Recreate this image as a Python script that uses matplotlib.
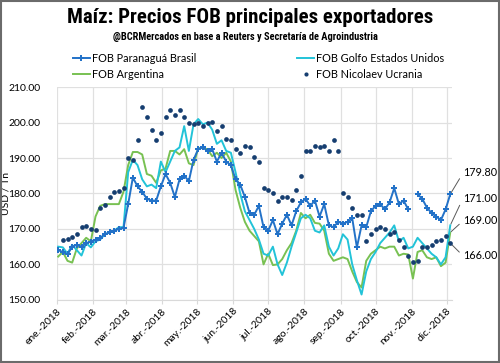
import matplotlib
matplotlib.use("Agg")
import matplotlib.pyplot as plt
import numpy as np
import pandas as pd
from matplotlib.lines import Line2D
from matplotlib.patches import Rectangle
from matplotlib.ticker import FormatStrFormatter
from matplotlib import font_manager

nan = np.nan

# fechas cada 4 dias
fechas = pd.date_range("2018-01-02", "2018-12-04", freq="4D")

paranagua = [164, 163.5, 162.8, 165, 165.5, 165, 166, 166.4, 167, 167.5,
             168.5, 169, 169.5, 170, 170.3, 177, 184.5, 182, 180.5, 178.5,
             178, 178, 182, 185.5, 183, 179, 184, 185, 183.5, 189.5,
             192.5, 193, 192, 192.5, 189, 191.5, 189, 188, 184, 182.5,
             179, 174.5, 174, 176.5, 170.5, 169.5, 172.5, 168.5, 171.5, 174,
             171, 175, 177.5, 178.5, 176.5, 178, 173.5, 177, 171, 170.5,
             172, 171.5, 172, 173, 164.8, 171, 170.5, 175, 176.5, 177,
             175.5, 177.5, 181.5, 177, 178, 175.5, nan, 179.8, 178.5, 176,
             174.5, 173.5, 172.5, 175.5, 179.8]

golfo = [165, 164.8, 163, 165.5, 164, 162.5, 166, 164.8, 166.5, 167,
         168.5, 169, 169.5, 170.5, 170.5, 186, 189.5, 188, 184, 182,
         182.5, 181.5, 189, 186, 189, 192, 193, 199, 192, 199.5,
         201, 199.5, 200, 198, 194, 195, 192, 191.5, 186, 180,
         175, 172.5, 170, 167, 163, 162.5, 165, 160, 157, 160.5,
         165, 169, 173, 174, 173, 169.5, 169, 171, 165, 162.5,
         164.5, 168.5, 167, 160, 155.5, 151.5, 158, 161.5, 163.5, 166,
         167.5, 169, 171, 166.5, 167.5, 164.5, 165, 167.5, 166, 164.5,
         163, 162, 160, 162, 171]

argentina = [162.2, 163.5, 161, 160.5, 164.5, 166, 167.5, 166.5, 173.5, 176.5,
             177, 177, 177, 177, 180.5, 188, 191.7, 191.7, 191, 185.5,
             185, 183, 186.5, 187, 192, 192, 191, 192.5, 188.5, 188,
             192.8, 192.8, 192.5, 190.5, 191.5, 190, 191.5, 189, 181, 176,
             172, 169.5, 168, 166.5, 160, 163, 159.8, 160, 161.5, 164,
             166, 169.5, 174.5, 173, 174, 171.7, 171.5, 169.5, 163, 161,
             161.5, 162, 161.5, 158, 155, 153.5, 161, 163, 164, 165,
             164.5, 165, 165, 162.5, 163, 162.8, 156, 163.5, 164, 162,
             161.5, 162, 159.5, 160.5, 169]

nicolaev = [nan, 167, 167.2, 167.8, 168.5, 170.5, 170.8, 170, 169.8, 176,
            176.8, 179, 180.5, 180.8, 181.6, 190, 189.5, 195, 204.4, 201.5,
            198, 195, 197, 201.5, 203.5, 202, 203.5, 201.5, 199.8, 199.5,
            200, 199, 200, 200.3, 197.5, 199, 195.5, 195, 192.5, 191.5,
            193.5, 193, 190.3, 189, 181.5, 181, 180, 178, 179, 179,
            178.2, 181, 185, 192, 192, 193.5, 193, 193.5, 192, 195,
            192, 180, 179, 176, 174, 174, 166.5, 168.5, 170, 170.5,
            170, 168.5, 169, 167, 165, 162.5, 160.7, 161, 165, 165,
            165.5, 166.5, 167, 168, 166]

meses = ["ene.-2018", "feb.-2018", "mar.-2018", "abr.-2018", "may.-2018",
         "jun.-2018", "jul.-2018", "ago.-2018", "sep.-2018", "oct.-2018",
         "nov.-2018", "dic.-2018"]

c_par = "#2372C8"
c_gol = "#22C3D8"
c_arg = "#78C152"
c_nic = "#163E70"

plt.rcParams['font.family'] = ['Lato', 'DejaVu Sans']

# busca una fuente angosta para el titulo
nombres = {f.name for f in font_manager.fontManager.ttflist}
angosta = None
for n in ["Liberation Sans Narrow", "Roboto Condensed", "Open Sans Condensed",
          "Noto Sans Condensed", "DejaVu Sans Condensed"]:
    if n in nombres:
        angosta = n
        break
if angosta:
    fam_tit = [angosta, "DejaVu Sans"]
    tam_tit, tam_sub = 15, 7.5
else:
    fam_tit = ["Roboto", "DejaVu Sans"]
    tam_tit, tam_sub = 12.5, 6.3

fig = plt.figure(figsize=(5, 3.63), dpi=100)
ax = fig.add_axes([0.114, 0.174, 0.79, 0.586])

ax.plot(fechas, argentina, color=c_arg, lw=1.4, zorder=3)
ax.plot(fechas, golfo, color=c_gol, lw=1.4, zorder=4)
ax.plot(fechas, paranagua, color=c_par, lw=1.4, marker="P", ms=4.5,
        markeredgewidth=0, zorder=5)
ax.plot(fechas, nicolaev, color=c_nic, lw=0, marker="o", ms=3.4,
        markeredgewidth=0, zorder=6)

# ejes
ax.set_ylim(150, 210)
ax.set_yticks(np.arange(150, 211, 10))
ax.yaxis.set_major_formatter(FormatStrFormatter("%.2f"))
ticks_x = pd.date_range("2018-01-01", "2018-12-01", freq="MS")
ax.set_xticks(ticks_x)
ax.set_xticklabels(meses, rotation=45, ha="right", rotation_mode="anchor",
                   fontsize=7.5)
ax.set_xlim(pd.Timestamp("2018-01-01"), pd.Timestamp("2018-12-05 12:00"))
ax.tick_params(axis="y", length=0, labelsize=7.5, pad=12)
ax.tick_params(axis="x", length=3, color="#d9d9d9", pad=2)
ax.grid(True, color="#e0e0e0", lw=0.9)
ax.set_axisbelow(True)
for s in ["top", "right", "left"]:
    ax.spines[s].set_visible(False)
ax.spines["bottom"].set_color("#d9d9d9")
ax.set_ylabel("USD / Tn", fontsize=7.5, labelpad=2)
ax.yaxis.set_label_coords(-0.118, 0.5)

# etiquetas finales
etiquetas = [(paranagua[-1], 185.8), (golfo[-1], 178.7),
             (argentina[-1], 172.3), (nicolaev[-1], 162.4)]
x_txt = pd.Timestamp("2018-12-15")
for val, y_txt in etiquetas:
    ax.annotate("%.2f" % val, xy=(fechas[-1], val), xytext=(x_txt, y_txt),
                fontsize=7.8, va="center", ha="left", annotation_clip=False,
                arrowprops=dict(arrowstyle="-", color="#595959", lw=0.7,
                                shrinkA=1, shrinkB=1, relpos=(0, 0.5)))

# titulo
fig.text(0.5, 0.952, "Maíz: Precios FOB principales exportadores",
         ha="center", va="center", fontsize=tam_tit, fontweight="bold",
         family=fam_tit)
fig.text(0.49, 0.898, "@BCRMercados en base a Reuters y Secretaría de Agroindustria",
         ha="center", va="center", fontsize=tam_sub, fontweight="bold",
         family=fam_tit)

# leyenda
handles = [
    Line2D([], [], color=c_par, lw=1.4, marker="P", ms=4.5, markeredgewidth=0),
    Line2D([], [], color=c_arg, lw=1.4),
    Line2D([], [], color=c_gol, lw=1.4),
    Line2D([], [], color=c_nic, lw=0, marker="o", ms=3, markeredgewidth=0),
]
labels = ["FOB Paranaguá Brasil", "FOB Argentina",
          "FOB Golfo Estados Unidos", "FOB Nicolaev Ucrania"]
fig.legend(handles, labels, ncol=2, loc="upper left",
           bbox_to_anchor=(0.145, 0.855), frameon=False, fontsize=7.8,
           handlelength=1.6, handletextpad=0.2, columnspacing=9.3,
           labelspacing=0.45, borderaxespad=0, borderpad=0)

fig.patches.append(Rectangle((0.002, 0.003), 0.996, 0.994,
                             transform=fig.transFigure, fill=False,
                             edgecolor="#6b6b6b", lw=1.5))

fig.savefig("out.png", dpi=100)
